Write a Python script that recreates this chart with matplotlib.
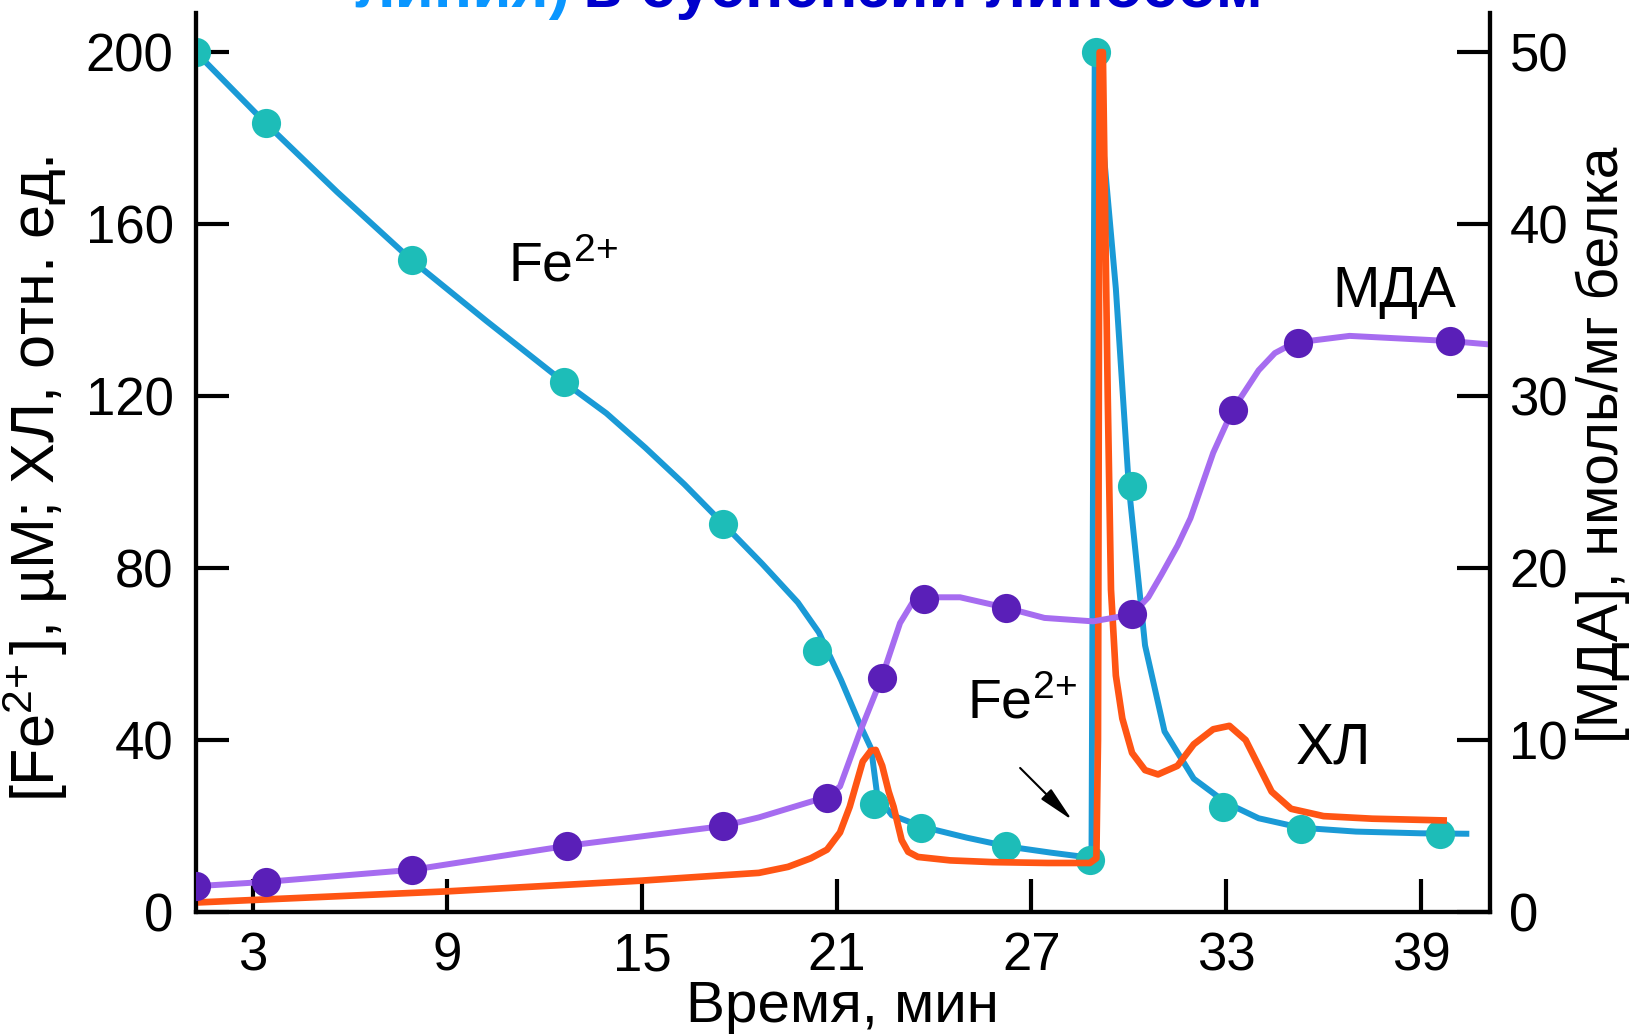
import matplotlib
matplotlib.use("Agg")
import matplotlib.pyplot as plt

plt.rcParams["font.family"] = ["Liberation Sans", "DejaVu Sans"]
plt.rcParams["mathtext.fontset"] = "custom"
plt.rcParams["mathtext.rm"] = "Liberation Sans"
plt.rcParams["mathtext.it"] = "Liberation Sans"

# Fe2+ measured points (left axis, uM)
fe_time = [1.25, 3.4, 7.9, 12.6, 17.5, 20.4, 22.15, 23.6, 26.2, 28.8, 29.0, 30.1, 32.9, 35.3, 39.6]
fe_val = [200, 183.5, 151.6, 123.2, 90.3, 60.8, 25.2, 19.6, 15.3, 12.0, 200, 99, 24.5, 19.4, 18.2]

# Fe2+ fitted curve
fe_line_time = [1.25, 3.4, 5.6, 7.9, 10.2, 12.6, 13.9, 15.1, 16.3, 17.5, 18.7, 19.8, 20.45,
                21.13, 21.75, 22.06, 22.25, 22.7, 23.65, 25.0, 26.3, 27.6, 28.85, 28.95,
                29.6, 30.0, 30.5, 31.1, 32.0, 33.0, 34.0, 35.3, 37.0, 39.0, 40.4]
fe_line_val = [200, 183.5, 167.5, 151.6, 137.5, 123.2, 116, 108, 99.5, 90.3, 81, 72, 65,
               54, 43, 38, 27, 22.5, 19.8, 17.3, 15.2, 13.8, 12.6, 200,
               145, 99, 62, 42, 31, 25.4, 21.8, 19.6, 18.7, 18.3, 18.2]

# chemiluminescence (left axis, rel. units)
hl_time = [1.25, 9.0, 15.0, 18.6, 19.5, 20.2, 20.7, 21.1, 21.4, 21.8, 22.05, 22.2, 22.4, 22.6,
           22.75, 23.0, 23.2, 23.5, 24.5, 25.8, 27.5, 28.8, 29.0, 29.05, 29.1, 29.2, 29.35,
           29.45, 29.6, 29.8, 30.1, 30.5, 30.9, 31.5, 32.0, 32.6, 33.1, 33.6, 34.0, 34.4,
           35.0, 36.0, 37.5, 39.7]
hl_val = [2.2, 4.8, 7.3, 9.1, 10.5, 12.5, 14.5, 18.5, 24.5, 35, 37.5, 37.7, 34, 28,
          24.5, 16.7, 14, 12.8, 12, 11.6, 11.4, 11.4, 12.5, 40, 200, 200, 120,
          75, 55, 45, 37, 33, 32, 34, 39, 42.5, 43.3, 40, 34, 28,
          24, 22.3, 21.7, 21.3]

# MDA measured points (right axis, nmol/mg protein)
mda_time = [1.25, 3.4, 7.9, 12.7, 17.5, 20.7, 22.4, 23.7, 26.2, 30.1, 33.2, 35.2, 39.9]
mda_val = [1.5, 1.75, 2.45, 3.85, 5.0, 6.6, 13.6, 18.2, 17.7, 17.3, 29.2, 33.1, 33.2]

# MDA fitted curve
mda_line_time = [1.25, 3.4, 7.9, 12.7, 17.5, 18.6, 20.7, 21.1, 21.7, 22.4, 22.95, 23.4, 23.7,
                 24.8, 26.2, 27.4, 28.9, 30.1, 30.6, 31.0, 31.5, 31.9, 32.6, 33.2, 34.0,
                 34.5, 35.1, 36.8, 39.9, 41.13]
mda_line_val = [1.5, 1.75, 2.45, 3.85, 5.0, 5.5, 6.7, 7.3, 10.4, 13.7, 16.8, 18.2, 18.3,
                18.3, 17.7, 17.1, 16.9, 17.3, 18.3, 19.6, 21.3, 22.9, 26.7, 29.2, 31.5,
                32.5, 33.1, 33.5, 33.2, 33.0]

x_ticks = [3, 9, 15, 21, 27, 33, 39]
left_ticks = [0, 40, 80, 120, 160, 200]
right_ticks = [0, 10, 20, 30, 40, 50]

fig = plt.figure(figsize=(16.32, 10.34), dpi=100)
ax = fig.add_axes([0.120, 0.118, 0.793, 0.869])
ax2 = ax.twinx()

ax.plot(fe_line_time, fe_line_val, color="#1a9ad6", lw=4.3, zorder=2)
ax.plot(fe_time, fe_val, "o", color="#1dbdb8", ms=21, mew=0, zorder=3)
ax.plot(hl_time, hl_val, color="#ff5514", lw=4.8, zorder=4)

ax2.plot(mda_line_time, mda_line_val, color="#a66cf0", lw=4.3, zorder=2)
ax2.plot(mda_time, mda_val, "o", color="#5a1fb8", ms=21, mew=0, zorder=3)

ax.set_xlim(1.25, 41.13)
ax.set_ylim(0, 209)
ax2.set_ylim(0, 52.25)

ax.set_xticks(x_ticks)
ax.set_yticks(left_ticks)
ax2.set_yticks(right_ticks)

for a in (ax, ax2):
    a.spines["top"].set_visible(False)
    for s in a.spines.values():
        s.set_linewidth(3)
    a.tick_params(direction="in", length=24, width=3, labelsize=38)
ax.tick_params(axis="y", pad=16)
ax.tick_params(axis="x", pad=14)
ax2.tick_params(axis="y", pad=14)

ax.set_xlabel("Время, мин", fontsize=42, labelpad=-1)
ax.set_ylabel("[Fe$^{2\\!+}$], µM; ХЛ, отн. ед.", fontsize=44)
ax.yaxis.set_label_coords(-0.097, 0.482)
ax2.set_ylabel("[МДА], нмоль/мг белка", fontsize=41)
ax2.yaxis.set_label_coords(1.066, 0.52)

ax.text(10.87, 146.7, "Fe$^{2\\!+}$", fontsize=40)
ax2.text(36.27, 35.2, "МДА", fontsize=41)
ax.text(35.15, 34.6, "ХЛ", fontsize=41)
ax.text(25.0, 45.0, "Fe$^{2\\!+}$", fontsize=40)
ax.annotate("", xy=(28.25, 21.4), xytext=(26.65, 33.5),
            arrowprops=dict(arrowstyle="-|>,head_length=1.1,head_width=0.22",
                            mutation_scale=20, color="black", lw=1.5,
                            shrinkA=0, shrinkB=0))

# title, cut by the top edge
fig.text(0.217, 0.9932, "линия)", color="#0a96ff", fontsize=46, fontweight="bold",
         va="baseline")
fig.text(0.357, 0.9932, "в суспензии липосом", color="#0000cc", fontsize=46,
         fontweight="bold", va="baseline")

fig.savefig("out.png", dpi=100)
